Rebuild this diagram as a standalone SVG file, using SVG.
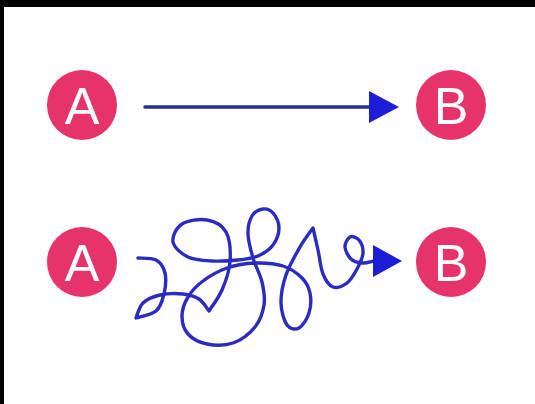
<svg xmlns="http://www.w3.org/2000/svg" width="535" height="404" viewBox="0 0 535 404">
<style>
.node circle{fill:#e6336a}
.node text{fill:#ffffff;font-family:"Liberation Sans",Arial,sans-serif;font-size:52px;text-anchor:middle}
.line{fill:none;stroke:#2d2f90;stroke-width:3.5;stroke-linecap:round}
.squiggle{fill:none;stroke:#2b2bc2;stroke-width:3.4;stroke-linecap:round;stroke-linejoin:round}
.head{fill:#1d1dd8}
</style>
<rect x="0" y="0" width="535" height="404" fill="#ffffff"/>
<rect x="0" y="0" width="535" height="7" fill="#000000"/>
<rect x="0" y="0" width="4" height="404" fill="#000000"/>
<g id="connectors">
<path class="line" d="M145,107 L372,107"/>
<polygon class="head" points="369,91 399,107 369,123"/>
<path class="squiggle" d="M138,258 C141,258.3 151.5,257.5 156,260 C160.5,262.5 163.7,267.3 165,273 C166.3,278.7 165.5,287.7 164,294 C162.5,300.3 160.7,307 156,311 C151.3,315 139.3,316.8 136,318 C137.2,315.5 139,306.8 143,303 C147,299.2 153.3,296.5 160,295 C166.7,293.5 176.5,293.3 183,294 C189.5,294.7 194.7,296.2 199,299 C203.3,301.8 207.3,309 209,311 C211.2,307.5 218.5,298.2 222,290 C225.5,281.8 229.3,271.7 230,262 C230.7,252.3 229.8,239 226,232 C222.2,225 214.3,221.3 207,220 C199.7,218.7 187.7,220.3 182,224 C176.3,227.7 172,236.5 173,242 C174,247.5 181.5,253.8 188,257 C194.5,260.2 203.7,260.5 212,261 C220.3,261.5 230.3,260.8 238,260 C245.7,259.2 252.2,258.5 258,256 C263.8,253.5 269.5,249.7 273,245 C276.5,240.3 279,233.3 279,228 C279,222.7 275.7,216.2 273,213 C270.3,209.8 266.5,208.5 263,209 C259.5,209.5 254.5,211.8 252,216 C249.5,220.2 247.8,227 248,234 C248.2,241 250.7,250 253,258 C255.3,266 260.2,274.2 262,282 C263.8,289.8 265.2,297.5 264,305 C262.8,312.5 260.2,320.7 255,327 C249.8,333.3 241,340.2 233,343 C225,345.8 214.5,345.5 207,344 C199.5,342.5 192.2,338.7 188,334 C183.8,329.3 182,322.2 182,316 C182,309.8 184.5,302.8 188,297 C191.5,291.2 196.5,285.8 203,281 C209.5,276.2 218.3,271 227,268 C235.7,265 245.7,263.3 255,263 C264.3,262.7 275.2,263.5 283,266 C290.8,268.5 297.5,273.5 302,278 C306.5,282.5 308.8,287.2 310,293 C311.2,298.8 310.8,307.2 309,313 C307.2,318.8 302.7,326 299,328 C295.3,330 290,329.2 287,325 C284,320.8 281.2,311.3 281,303 C280.8,294.7 282.8,284.3 286,275 C289.2,265.7 295.5,254.8 300,247 C304.5,239.2 310.8,231.2 313,228 C313.8,231.7 316.3,242.3 318,250 C319.7,257.7 320.5,267.8 323,274 C325.5,280.2 329,285.5 333,287 C337,288.5 343,286 347,283 C351,280 354.3,274 357,269 C359.7,264 362.7,257.8 363,253 C363.3,248.2 361.2,242.7 359,240 C356.8,237.3 352.3,235.8 350,237 C347.7,238.2 344.8,243.3 345,247 C345.2,250.7 348.2,256.3 351,259 C353.8,261.7 358.2,262.7 362,263 C365.8,263.3 372,261.3 374,261"/>
<polygon class="head" points="373,245 402,261 373,277"/>
</g>
<g id="node-a1" class="node"><circle cx="82" cy="105" r="35"/><text x="82" y="124">A</text></g>
<g id="node-b1" class="node"><circle cx="451" cy="105" r="35"/><text x="451" y="124">B</text></g>
<g id="node-a2" class="node"><circle cx="82" cy="262" r="35"/><text x="82" y="281">A</text></g>
<g id="node-b2" class="node"><circle cx="451" cy="262" r="35"/><text x="451" y="281">B</text></g>
</svg>
